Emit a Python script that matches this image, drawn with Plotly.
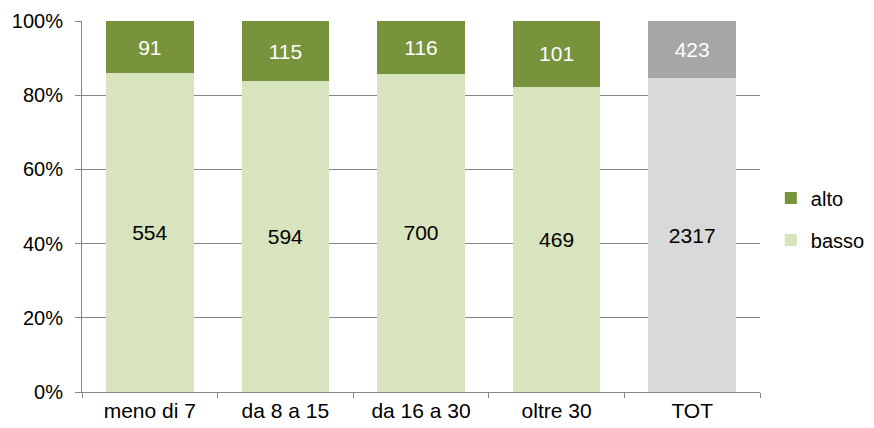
import plotly.graph_objects as go

categories = ["meno di 7", "da 8 a 15", "da 16 a 30", "oltre 30", "TOT"]
basso = [554, 594, 700, 469, 2317]
alto = [91, 115, 116, 101, 423]

basso_colors = ["#D7E4BD"] * 4 + ["#D9D9D9"]
alto_colors = ["#77933C"] * 4 + ["#A6A6A6"]

FONT = "Liberation Sans, Arial, sans-serif"
FS = 21
LFS = 20

fig = go.Figure()
fig.add_trace(go.Bar(
    x=categories, y=basso, name="basso",
    marker=dict(color=basso_colors, line=dict(width=0)),
    text=[str(v) for v in basso], textposition="inside",
    insidetextanchor="middle",
    textfont=dict(color="black", size=FS, family=FONT),
    legend="legend2", showlegend=True,
))
fig.add_trace(go.Bar(
    x=categories, y=alto, name="alto",
    marker=dict(color=alto_colors, line=dict(width=0)),
    text=[str(v) for v in alto], textposition="inside",
    insidetextanchor="middle",
    textfont=dict(color="white", size=FS, family=FONT),
    legend="legend", showlegend=True,
))

fig.update_layout(
    template="none",
    width=866, height=420,
    showlegend=True,
    barmode="stack", barnorm="percent", bargap=0.355,
    paper_bgcolor="white", plot_bgcolor="white",
    margin=dict(l=74, r=114, t=13, b=36, autoexpand=False),
    font=dict(family=FONT, size=FS, color="black"),
    uniformtext=dict(mode="show", minsize=FS),
    legend=dict(x=1.016, xanchor="left", y=0.523, yanchor="middle",
                font=dict(size=LFS, family=FONT), bgcolor="rgba(0,0,0,0)",
                itemwidth=30, borderwidth=0),
    legend2=dict(x=1.016, xanchor="left", y=0.410, yanchor="middle",
                 font=dict(size=LFS, family=FONT), bgcolor="rgba(0,0,0,0)",
                 itemwidth=30, borderwidth=0),
    xaxis=dict(
        automargin=False,
        showline=True, linecolor="#868686", linewidth=1,
        ticks="outside", tickson="boundaries", ticklen=5, tickcolor="#868686",
        tickfont=dict(size=FS, family=FONT), showgrid=False,
    ),
    yaxis=dict(
        automargin=False,
        range=[0, 100], tickvals=[0, 20, 40, 60, 80, 100],
        ticktext=["0%", "20%", "40%", "60%", "80%", "100%"],
        showline=True, linecolor="#868686", linewidth=1,
        ticks="outside", ticklen=6, tickcolor="#868686",
        showgrid=True, gridcolor="#868686", gridwidth=1,
        tickfont=dict(size=20, family=FONT), zeroline=False,
        ticklabelstandoff=8,
    ),
)

fig.write_html("out.html")
